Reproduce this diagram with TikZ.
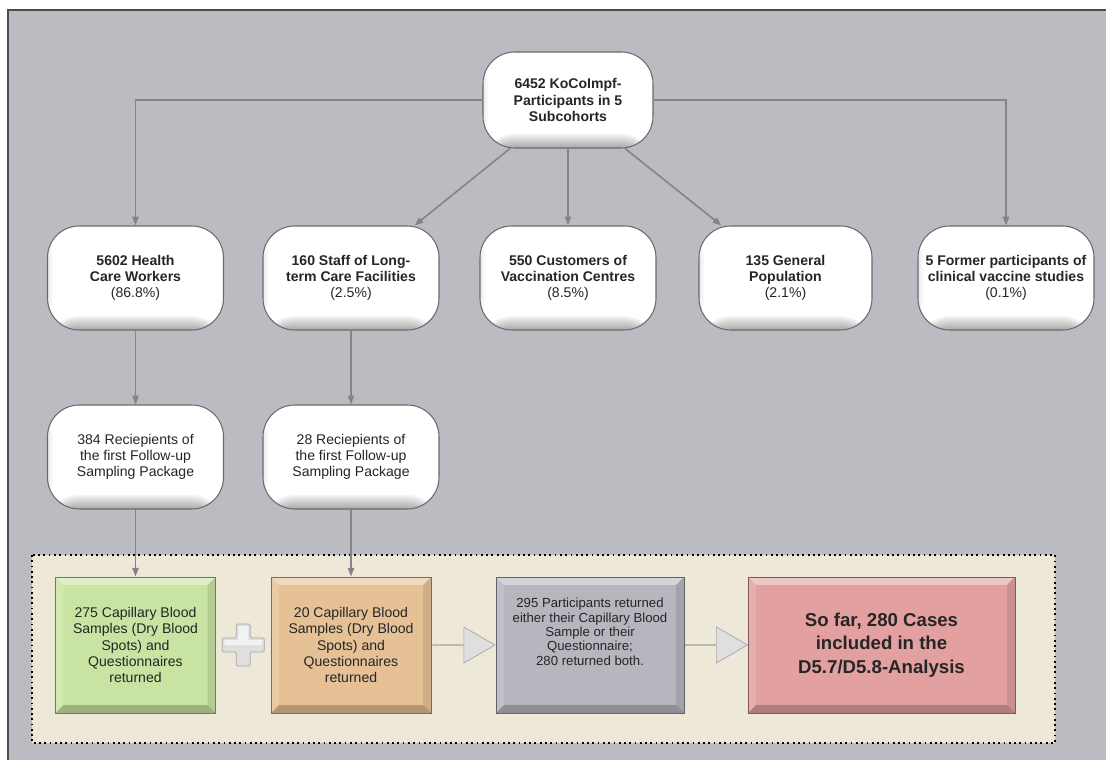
\documentclass[tikz,border=0pt]{standalone}
\usepackage{fontspec}
\setmainfont{Liberation Sans}
\usetikzlibrary{arrows.meta,shapes.arrows}

\definecolor{panelgray}{HTML}{BCBBC1}
\definecolor{linkgray}{HTML}{838388}
\definecolor{pillline}{HTML}{6A6A6E}
\definecolor{cream}{HTML}{EEE8D8}
\definecolor{boxgreen}{HTML}{C9E4A2}
\definecolor{boxorange}{HTML}{E6C196}
\definecolor{boxgray}{HTML}{B6B6BE}
\definecolor{boxred}{HTML}{E2A0A0}

\tikzset{
  bevel/.style={draw=#1!55!black, fill=#1, line width=0.5pt, text=black!85,
    minimum width=3.2cm, minimum height=2.72cm,
    path picture={
      \fill[white,opacity=0.4] (path picture bounding box.north west) -- (path picture bounding box.north east)
        -- ([shift={(-4.5pt,-4.5pt)}]path picture bounding box.north east) -- ([shift={(4.5pt,-4.5pt)}]path picture bounding box.north west) -- cycle;
      \fill[black,opacity=0.22] (path picture bounding box.south west) -- (path picture bounding box.south east)
        -- ([shift={(-4.5pt,4.5pt)}]path picture bounding box.south east) -- ([shift={(4.5pt,4.5pt)}]path picture bounding box.south west) -- cycle;
      \fill[white,opacity=0.15] (path picture bounding box.north west) -- (path picture bounding box.south west)
        -- ([shift={(4.5pt,4.5pt)}]path picture bounding box.south west) -- ([shift={(4.5pt,-4.5pt)}]path picture bounding box.north west) -- cycle;
      \fill[black,opacity=0.1] (path picture bounding box.north east) -- (path picture bounding box.south east)
        -- ([shift={(-4.5pt,4.5pt)}]path picture bounding box.south east) -- ([shift={(-4.5pt,-4.5pt)}]path picture bounding box.north east) -- cycle;
    }},
}

\begin{document}
\begin{tikzpicture}[x=0.02cm,y=-0.02cm,
  every node/.style={font=\fontsize{8}{9.2}\selectfont, align=center, text=black!85},
  pill/.style={draw=pillline, line width=0.6pt, rounded corners=18pt, fill=white,
    minimum width=3.52cm, minimum height=2.08cm, inner sep=2pt,
    path picture={
      \foreach \k in {0,1,...,8}
        \fill[black,opacity=0.045] (path picture bounding box.south west) rectangle ([yshift=\k pt]path picture bounding box.south east);
      \foreach \k in {0,1,2,3}
        \fill[black,opacity=0.025] (path picture bounding box.south west) rectangle ([xshift=\k pt]path picture bounding box.north west);
    }},
  link/.style={draw=linkgray, line width=0.9pt, -{Triangle[length=5pt,width=3.6pt]}},
  bigarrow/.style={single arrow, draw=gray!70, fill=gray!25,
    minimum height=1.24cm, minimum width=0.72cm, single arrow head extend=0.2cm,
    single arrow tip angle=60, inner sep=0pt}]
\useasboundingbox (0,0) rectangle (1106,760);
\fill[panelgray] (8,10) rectangle (1106,760);
\draw[gray!60!black, line width=1pt] (8,760) -- (8,10) -- (1106,10);

% cohort and subcohorts
\node[pill, font=\fontsize{8}{9.2}\selectfont\bfseries, minimum width=3.4cm, minimum height=1.92cm] (all) at (568,100)
  {6452 KoCoImpf-\\Participants in 5\\Subcohorts};
\node[pill] (hcw) at (135.5,278) {\textbf{5602 Health}\\\textbf{Care Workers}\\(86.8\%)};
\node[pill] (ltc) at (351,278) {\textbf{160 Staff of Long-}\\\textbf{term Care Facilities}\\(2.5\%)};
\node[pill] (cust) at (568,278) {\textbf{550 Customers of}\\\textbf{Vaccination Centres}\\(8.5\%)};
\node[pill, minimum width=3.46cm] (gen) at (785.5,278) {\textbf{135 General}\\\textbf{Population}\\(2.1\%)};
\node[pill] (former) at (1006,278) {\textbf{5 Former participants of}\\\textbf{clinical vaccine studies}\\(0.1\%)};

% follow-up packages
\node[pill] (rec1) at (135.5,457) {384 Reciepients of\\the first Follow-up\\Sampling Package};
\node[pill] (rec2) at (351,457) {28 Reciepients of\\the first Follow-up\\Sampling Package};

\draw[link] (all.west) -| (hcw.north);
\draw[link] (all.east) -| (former.north);
\draw[link] (all.south) -- (cust.north);
\draw[link] ([xshift=-1.16cm]all.south) -- ([xshift=-0.5cm]ltc.north east);
\draw[link] ([xshift=1.14cm]all.south) -- ([xshift=0.46cm]gen.north west);
\draw[link] (hcw.south) -- (rec1.north);
\draw[link] (ltc.south) -- (rec2.north);

% returned samples
\draw[black, dotted, line width=1pt, fill=cream] (32,555) rectangle (1055,743);
\node[bevel=boxgreen] (green) at (135.5,645) {275 Capillary Blood\\Samples (Dry Blood\\Spots) and\\Questionnaires\\returned};
\node[bevel=boxorange] (orange) at (351,645) {20 Capillary Blood\\Samples (Dry Blood\\Spots) and\\Questionnaires\\returned};
\node[bevel=boxgray, minimum width=3.76cm, font=\fontsize{7.5}{8.2}\selectfont] (both) at (590,645)
  {295 Participants returned\\either their Capillary Blood\\Sample or their\\Questionnaire;\\280 returned both.\\[7pt]};
\node[bevel=boxred, minimum width=5.34cm, font=\fontsize{10.6}{13.4}\selectfont\bfseries] (cases) at (881.5,645)
  {So far, 280 Cases\\included in the\\D5.7/D5.8-Analysis};

\draw[link] (rec1.south) -- (green.north);
\draw[link] (rec2.south) -- (orange.north);

\path (green.east) -- coordinate (plusc) (orange.west);
\begin{scope}[shift={(plusc)}]
\draw[gray!70, fill=gray!25, rounded corners=0.8pt]
  (-21,-7) -- (-7,-7) -- (-7,-21) -- (7,-21) -- (7,-7) -- (21,-7) -- (21,7)
  -- (7,7) -- (7,21) -- (-7,21) -- (-7,7) -- (-21,7) -- cycle;
\fill[white,opacity=0.6] (-19,-5) -- (-5,-5) -- (-5,-19) -- (5,-19) -- (5,-5) -- (19,-5) -- (19,0)
  -- (-19,0) -- cycle;
\end{scope}
\path (orange.east) -- node[bigarrow] (arr1) {} (both.west);
\path (both.east) -- node[bigarrow] (arr2) {} (cases.west);
\end{tikzpicture}
\end{document}
